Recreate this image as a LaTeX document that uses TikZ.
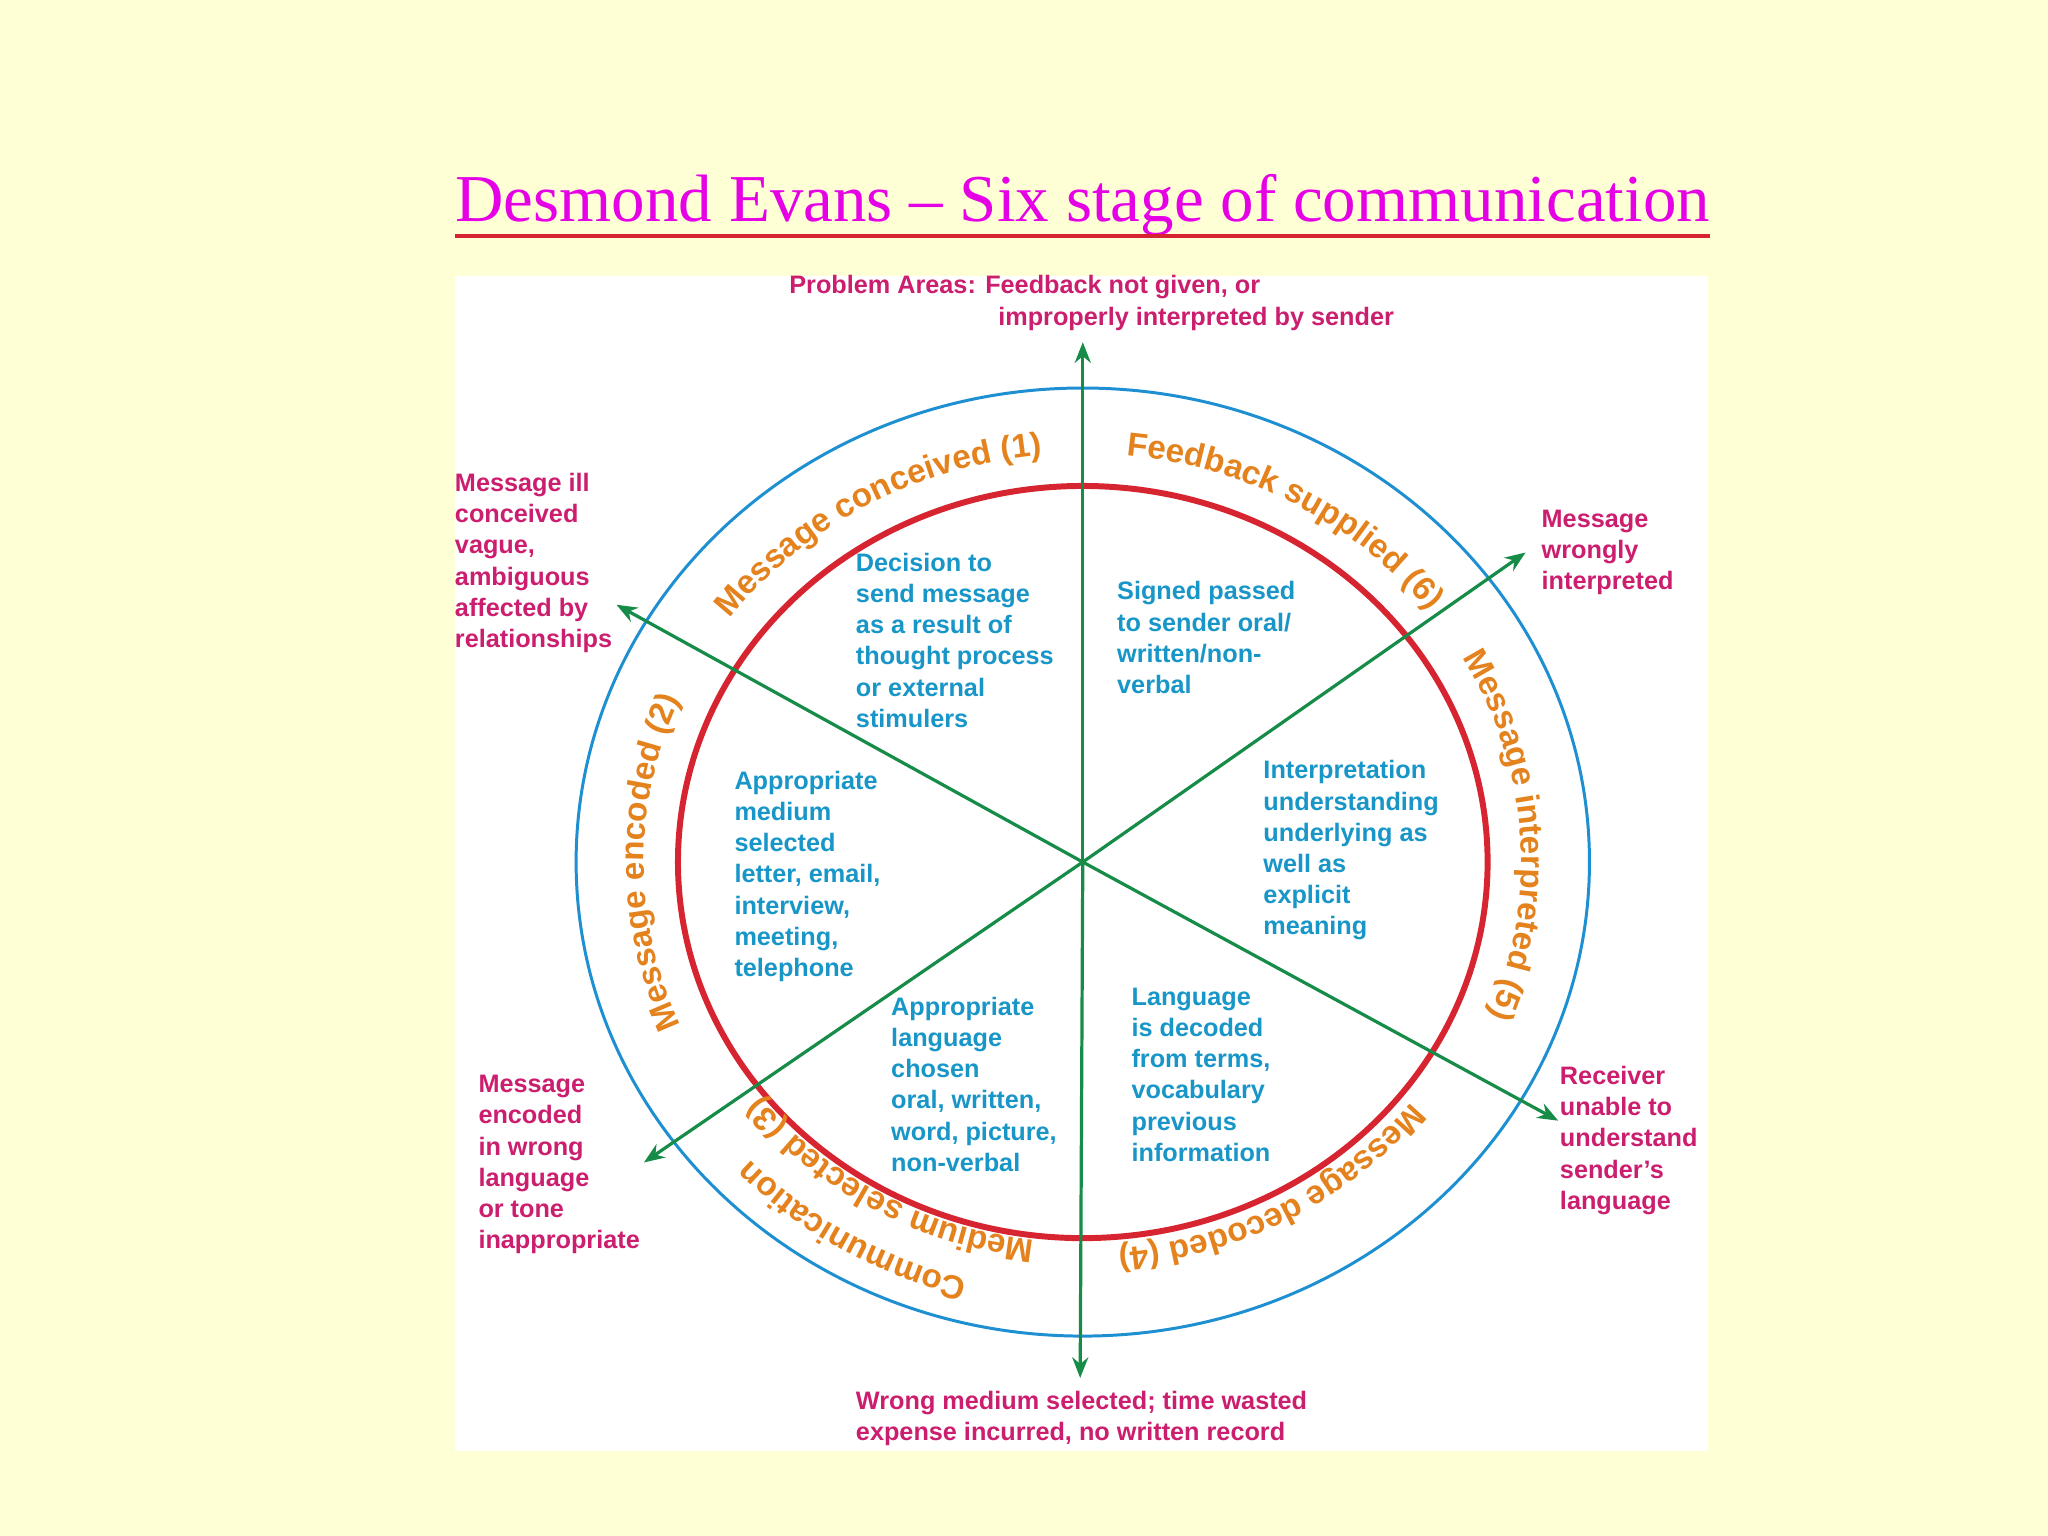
\documentclass[tikz,border=0pt]{standalone}
\usepackage{fontspec}
\setmainfont{Liberation Sans}
\newfontfamily\tnr{Liberation Serif}
\usetikzlibrary{arrows.meta,decorations.text}
\definecolor{bg}{RGB}{255,255,214}
\definecolor{cblue}{RGB}{30,144,210}
\definecolor{cred}{RGB}{214,36,48}
\definecolor{cgreen}{RGB}{22,140,72}
\definecolor{corange}{RGB}{228,130,30}
\definecolor{cmag}{RGB}{204,30,110}
\definecolor{ctitle}{RGB}{230,0,230}
\definecolor{ctext}{RGB}{24,150,200}
\tikzset{
  btxt/.style={anchor=north west,inner sep=0pt,align=left,text=ctext,font=\bfseries\fontsize{11}{13.6}\selectfont},
  mtxt/.style={anchor=north west,inner sep=0pt,align=left,text=cmag,font=\bfseries\fontsize{11}{13.6}\selectfont},
  garrow/.style={draw=cgreen,line width=1.4pt,-{Stealth[length=9pt,width=7pt]}},
  arclabel/.style={decorate,decoration={text along path,text align=center,text color=corange,text={|\bfseries\fontsize{14.5}{16}\selectfont|#1}}}
}
\begin{document}
\begin{tikzpicture}[x=0.02cm,y=-0.02cm]
\fill[bg] (0,0) rectangle (1568,1176);
\useasboundingbox (0,0) rectangle (1568,1176);
\fill[white] (348,211) rectangle (1308,1111);
\node[inner sep=0pt,text=ctitle,font=\tnr\fontsize{29.2}{33}\selectfont] (title) at (829,157) {Desmond Evans – Six stage of communication};
\draw[cred,line width=1.5pt] (title.base west) ++(0,-0.22cm) -- ([yshift=-0.22cm]title.base east);
\coordinate (c) at (829,660);
\draw[cblue,line width=1.3pt] (c) ellipse [x radius=7.76cm,y radius=7.26cm];
\draw[cred,line width=2.6pt] (c) ellipse [x radius=6.2cm,y radius=5.76cm];
% green arrows
\coordinate (top) at (829,262);
\coordinate (bot) at (827,1055);
\coordinate (ne) at (1168,423);
\coordinate (nw) at (472,463);
\coordinate (sw) at (493,890);
\coordinate (se) at (1193,858);
\draw[garrow] (c) -- (top);
\draw[garrow] (c) -- (bot);
\draw[garrow] (c) -- (ne);
\draw[garrow] (c) -- (nw);
\draw[garrow] (c) -- (sw);
\draw[garrow] (c) -- (se);
% arc labels
\path[arclabel={Message conceived (1)}] (c) ++(148:6.72cm and 6.26cm) arc[start angle=148,end angle=91,x radius=6.72cm,y radius=6.26cm];
\path[arclabel={Feedback supplied (6)}] (c) ++(89:6.72cm and 6.26cm) arc[start angle=89,end angle=33,x radius=6.72cm,y radius=6.26cm];
\path[arclabel={Message interpreted (5)}] (c) ++(34:6.72cm and 6.26cm) arc[start angle=34,end angle=-26,x radius=6.72cm,y radius=6.26cm];
\path[arclabel={Message decoded (4)}] (c) ++(-33:6.4cm and 5.95cm) arc[start angle=-33,end angle=-90,x radius=6.4cm,y radius=5.95cm];
\path[arclabel={Medium selected (3)}] (c) ++(-92:6.27cm and 5.84cm) arc[start angle=-92,end angle=-147,x radius=6.27cm,y radius=5.84cm];
\path[arclabel={Communication}] (c) ++(-98:7.05cm and 6.6cm) arc[start angle=-98,end angle=-143,x radius=7.05cm,y radius=6.6cm];
\path[arclabel={Message encoded (2)}] (c) ++(209:6.72cm and 6.26cm) arc[start angle=209,end angle=151,x radius=6.72cm,y radius=6.26cm];
% blue texts
\node[btxt] (t1) at (655,423) {Decision to\\send message\\as a result of\\thought process\\or external\\stimulers};
\node[btxt] (t6) at (855,445) {Signed passed\\to sender oral/\\written/non-\\verbal};
\node[btxt] (t5) at (967,582) {Interpretation\\understanding\\underlying as\\well as\\explicit\\meaning};
\node[btxt] (t4) at (866,756) {Language\\is decoded\\from terms,\\vocabulary\\previous\\information};
\node[btxt] (t3) at (682,763) {Appropriate\\language\\chosen\\oral, written,\\word, picture,\\non-verbal};
\node[btxt] (t2) at (562,590) {Appropriate\\medium\\selected\\letter, email,\\interview,\\meeting,\\telephone};
% magenta texts
\node[mtxt] (p1) at (348,362) {Message ill\\conceived\\vague,\\ambiguous\\affected by\\relationships};
\node[mtxt] (p6) at (1180,390) {Message\\wrongly\\interpreted};
\node[mtxt] (p5) at (1194,816) {Receiver\\unable to\\understand\\sender’s\\language};
\node[mtxt] (p3) at (366,823) {Message\\encoded\\in wrong\\language\\or tone\\inappropriate};
\node[mtxt] (pt1) at (604,210) {Problem Areas: Feedback not given, or};
\node[mtxt] (pt2) at (764,235) {improperly interpreted by sender};
\node[mtxt] (pb) at (655,1065) {Wrong medium selected; time wasted\\expense incurred, no written record};
\end{tikzpicture}
\end{document}
